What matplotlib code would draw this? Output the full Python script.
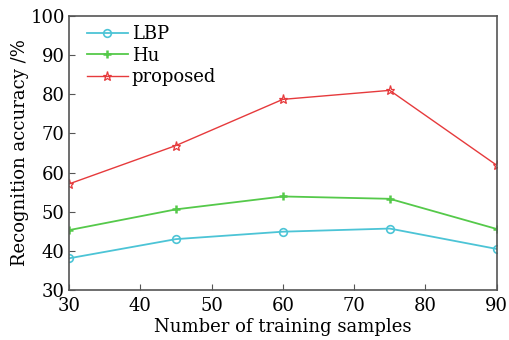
import matplotlib
matplotlib.use('Agg')
import matplotlib.pyplot as plt

samples = [30, 45, 60, 75, 90]
lbp = [38.1, 43.0, 44.9, 45.7, 40.5]
hu = [45.3, 50.6, 53.9, 53.3, 45.6]
proposed = [57.1, 66.9, 78.7, 81.0, 61.9]

plt.rcParams['font.family'] = 'DejaVu Serif'
plt.rcParams['font.size'] = 13

fig = plt.figure(figsize=(5.09, 3.40), dpi=100)
ax = fig.add_axes([0.1356, 0.147, 0.840, 0.806])

ax.plot(samples, lbp, color='#4cc4d6', marker='o', markersize=5.5, mfc='none', mew=1.2, lw=1.3, label='LBP')
ax.plot(samples, hu, color='#55c94a', marker='+', markersize=6, mew=1.8, lw=1.3, label='Hu')
ax.plot(samples, proposed, color='#e63a3c', marker='*', markersize=6.5, mfc='none', mew=0.9, lw=1.0, label='proposed')

ax.set_xlim(30, 90)
ax.set_ylim(30, 100)
ax.set_xticks([30, 40, 50, 60, 70, 80, 90])
ax.set_yticks([30, 40, 50, 60, 70, 80, 90, 100])
ax.tick_params(direction='in', length=4, color='#555555')
ax.tick_params(axis='x', pad=5)
ax.tick_params(axis='y', pad=3)
for s in ax.spines.values():
    s.set_color('#555555')
    s.set_linewidth(1.2)

ax.set_xlabel('Number of training samples', labelpad=2)
ax.set_ylabel('Recognition accuracy /%', labelpad=1)
ax.legend(loc='upper left', bbox_to_anchor=(0.02, 1.0), frameon=False,
          handlelength=2.3, handletextpad=0.2, labelspacing=0.2,
          borderaxespad=0.2, borderpad=0.3, fontsize=13)

fig.savefig('out.png', dpi=100)
